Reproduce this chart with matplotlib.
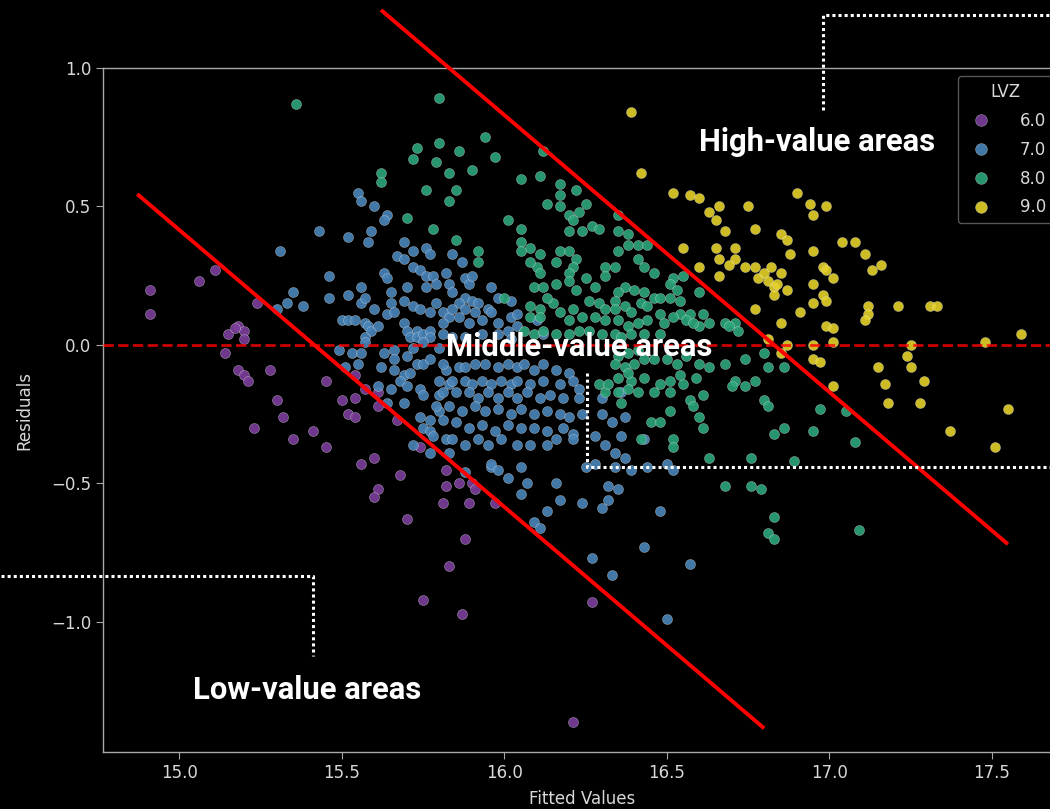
import matplotlib
matplotlib.use('Agg')
import matplotlib.pyplot as plt
from matplotlib.lines import Line2D

# --- data (Fitted Values, Residuals) per LVZ class ---
lvz_levels = ['6.0', '7.0', '8.0', '9.0']
lvz_colors = ['#7d3f9c', '#4a86bb', '#2ca87c', '#e6d22a']

x6 = [14.91, 14.91, 15.06, 15.11, 15.24, 15.18, 15.15, 15.20, 15.20, 15.17, 15.14, 15.18,
      15.20, 15.21, 15.28, 15.45, 15.30, 15.32, 15.23, 15.35, 15.41, 15.45, 15.50, 15.52,
      15.54, 15.54, 15.61, 15.67, 15.74, 15.56, 15.60, 15.54, 15.57, 15.61, 15.82, 15.82,
      15.86, 15.90, 15.91, 15.81, 15.89, 15.97, 15.70, 15.88, 15.83, 15.75, 15.87, 16.27,
      16.21, 15.61, 15.60, 15.68]
y6 = [0.20, 0.11, 0.23, 0.27, 0.15, 0.07, 0.04, 0.05, 0.02, 0.06, -0.03, -0.09,
      -0.11, -0.13, -0.09, -0.13, -0.20, -0.26, -0.30, -0.34, -0.31, -0.37, -0.20, -0.25,
      -0.26, -0.19, -0.22, -0.27, -0.37, -0.43, -0.41, -0.11, -0.16, -0.17, -0.45, -0.51,
      -0.50, -0.50, -0.52, -0.57, -0.57, -0.57, -0.63, -0.70, -0.80, -0.92, -0.97, -0.93,
      -1.36, -0.52, -0.55, -0.47]

x7 = [15.55, 15.56, 15.60, 15.64, 15.63, 15.43, 15.52, 15.59, 15.58, 15.31, 15.69, 15.72,
      15.76, 15.77, 15.67, 15.69, 15.72, 15.74, 15.76, 15.78, 15.82, 15.63, 15.64, 15.46,
      15.46, 15.35, 15.33, 15.38, 15.30, 15.52, 15.56, 15.56, 15.60, 15.57, 15.65, 15.70,
      15.69, 15.72, 15.74, 15.77, 15.79, 15.81, 15.83, 15.76, 15.79, 15.65, 15.64, 15.66,
      15.50, 15.52, 15.54, 15.57, 15.58, 15.59, 15.61, 15.57, 15.57, 15.53, 15.56, 15.63,
      15.66, 15.69, 15.70, 15.71, 15.73, 15.73, 15.75, 15.77, 15.77, 15.81, 15.75, 15.72,
      15.80, 15.66, 15.70, 15.73, 15.75, 15.77, 15.66, 15.69, 15.71, 15.62, 15.55, 15.51,
      15.61, 15.65, 15.68, 15.70, 15.74, 15.75, 15.80, 15.82, 15.83, 15.80, 15.77, 15.75,
      15.77, 15.78, 15.82, 15.83, 15.64, 15.69, 15.74, 15.72, 15.77, 15.88, 15.96, 15.49,
      15.88, 15.89, 15.83, 15.84, 15.88, 15.90, 15.92, 15.95, 15.96, 15.86, 15.84, 15.88,
      15.91, 15.86, 15.89, 15.93, 15.98, 16.02, 16.04, 16.01, 15.81, 15.84, 15.88, 15.93,
      15.98, 16.02, 15.81, 15.86, 15.88, 15.91, 15.94, 15.98, 16.01, 16.04, 16.06, 16.09,
      16.12, 16.16, 16.20, 15.80, 15.84, 15.88, 15.90, 15.93, 15.96, 15.99, 16.02, 16.04,
      16.08, 16.12, 16.17, 16.21, 16.23, 15.81, 15.85, 15.89, 15.92, 15.95, 15.98, 16.01,
      16.04, 16.07, 16.11, 16.14, 16.18, 16.23, 15.79, 15.83, 15.87, 15.91, 15.94, 15.98,
      16.02, 16.05, 16.09, 16.13, 16.17, 16.20, 16.24, 15.81, 15.85, 15.89, 15.93, 15.97,
      16.01, 16.05, 16.09, 16.13, 16.18, 16.21, 15.84, 15.88, 15.92, 15.95, 15.99, 16.04,
      16.08, 16.13, 16.16, 16.21, 15.96, 15.98, 16.01, 16.05, 16.07, 16.05, 16.30, 16.33,
      16.37, 16.28, 16.31, 16.36, 16.34, 16.37, 16.43, 16.28, 16.34, 16.39, 16.44, 16.50,
      16.52, 16.25, 16.30, 16.36, 15.90, 15.96, 15.98, 16.02, 16.04, 16.10, 16.12, 15.84,
      15.87, 16.13, 16.17, 16.09, 16.11, 16.24, 16.30, 16.32, 16.32, 16.35, 16.48, 16.43,
      16.27, 16.33, 16.57, 16.50, 16.16]
y7 = [0.55, 0.52, 0.50, 0.47, 0.45, 0.41, 0.39, 0.41, 0.37, 0.34, 0.37, 0.34,
      0.35, 0.33, 0.32, 0.31, 0.28, 0.27, 0.25, 0.25, 0.26, 0.26, 0.24, 0.25,
      0.17, 0.19, 0.15, 0.14, 0.13, 0.18, 0.21, 0.15, 0.13, 0.17, 0.19, 0.21,
      0.16, 0.14, 0.13, 0.12, 0.15, 0.12, 0.10, 0.21, 0.22, 0.15, 0.11, 0.12,
      0.09, 0.09, 0.09, 0.08, 0.07, 0.05, 0.07, 0.03, 0.01, -0.03, -0.03, -0.03,
      -0.02, 0.08, 0.05, 0.03, 0.05, 0.03, 0.04, 0.05, 0.03, 0.04, 0.01, -0.01,
      -0.01, -0.05, -0.04, -0.07, -0.07, -0.05, -0.09, -0.11, -0.10, -0.08, -0.07, -0.08,
      -0.15, -0.16, -0.13, -0.15, -0.16, -0.18, -0.18, -0.09, -0.14, -0.24, -0.27, -0.30,
      -0.31, -0.33, -0.34, -0.39, -0.21, -0.21, -0.26, -0.36, -0.39, -0.46, -0.44, -0.02,
      0.24, 0.22, 0.22, 0.19, 0.17, 0.16, 0.15, 0.13, 0.12, 0.15, 0.13, 0.13,
      0.12, 0.10, 0.08, 0.09, 0.08, 0.10, 0.07, 0.05, 0.08, 0.03, 0.03, 0.04,
      0.04, 0.02, -0.07, -0.08, -0.08, -0.07, -0.07, -0.08, -0.07, -0.08, -0.07, -0.09,
      -0.07, -0.09, -0.10, -0.13, -0.13, -0.13, -0.14, -0.13, -0.14, -0.13, -0.14, -0.13,
      -0.14, -0.13, -0.14, -0.13, -0.16, -0.17, -0.17, -0.17, -0.19, -0.17, -0.19, -0.17,
      -0.19, -0.17, -0.19, -0.18, -0.19, -0.19, -0.22, -0.22, -0.24, -0.22, -0.24, -0.23,
      -0.25, -0.23, -0.25, -0.24, -0.25, -0.26, -0.25, -0.27, -0.28, -0.30, -0.29, -0.31,
      -0.29, -0.30, -0.30, -0.31, -0.30, -0.32, -0.34, -0.36, -0.34, -0.36, -0.34, -0.36,
      -0.36, -0.36, -0.34, -0.34, -0.43, -0.45, -0.48, -0.44, -0.50, -0.54, -0.25, -0.28,
      -0.26, -0.33, -0.36, -0.33, -0.39, -0.41, -0.34, -0.43, -0.44, -0.45, -0.44, -0.43,
      -0.45, -0.44, -0.19, -0.17, 0.25, 0.21, 0.17, 0.16, 0.11, 0.09, 0.04, 0.33,
      0.30, -0.60, -0.56, -0.64, -0.66, -0.57, -0.59, -0.56, -0.51, -0.52, -0.60, -0.73,
      -0.77, -0.83, -0.79, -0.99, -0.50]

x8 = [15.36, 15.80, 15.94, 15.80, 15.73, 15.86, 15.79, 15.97, 15.90, 15.72, 15.62, 15.62,
      15.76, 15.70, 15.85, 15.85, 16.12, 16.05, 16.11, 16.17, 16.17, 16.22, 15.83, 15.83,
      15.78, 15.92, 15.92, 16.01, 16.05, 16.13, 16.17, 16.25, 16.23, 16.20, 16.21, 16.27,
      16.29, 16.20, 16.24, 16.35, 16.05, 16.08, 16.05, 16.11, 16.17, 16.20, 16.22, 16.16,
      16.10, 16.11, 16.21, 16.20, 16.31, 16.34, 16.31, 16.35, 16.38, 16.41, 16.44, 16.35,
      16.38, 16.41, 16.43, 16.46, 16.52, 16.55, 16.37, 16.40, 16.43, 16.35, 16.34, 16.51,
      16.53, 16.51, 16.54, 16.54, 16.57, 16.60, 16.56, 16.60, 16.63, 16.61, 16.68, 16.71,
      16.72, 16.25, 16.28, 16.20, 16.22, 16.26, 16.29, 16.31, 16.34, 16.37, 16.39, 16.42,
      16.44, 16.46, 16.48, 16.48, 16.52, 16.49, 16.44, 16.41, 16.38, 16.35, 16.31, 16.28,
      16.24, 16.20, 16.21, 16.17, 16.15, 16.13, 16.11, 16.08, 16.08, 16.11, 16.08, 16.09,
      16.12, 16.16, 16.00, 16.06, 16.09, 16.12, 16.16, 16.20, 16.23, 16.26, 16.30, 16.34,
      16.36, 16.39, 16.43, 16.48, 16.41, 16.38, 16.35, 16.34, 16.37, 16.40, 16.43, 16.46,
      16.50, 16.53, 16.56, 16.60, 16.63, 16.68, 16.74, 16.80, 16.35, 16.39, 16.43, 16.48,
      16.51, 16.55, 16.59, 16.71, 16.77, 16.81, 16.29, 16.31, 16.35, 16.38, 16.41, 16.46,
      16.51, 16.61, 16.70, 16.80, 16.81, 16.51, 16.57, 16.58, 16.60, 16.45, 16.48, 16.42,
      16.52, 16.52, 16.61, 16.63, 16.76, 16.68, 16.76, 16.79, 16.83, 16.97, 17.05, 17.08,
      16.95, 16.86, 16.89, 16.32, 16.36, 16.54, 16.38, 16.86, 16.74, 16.83, 16.81, 16.83,
      17.09, 16.58, 16.69]
y8 = [0.87, 0.89, 0.75, 0.73, 0.71, 0.70, 0.66, 0.68, 0.63, 0.67, 0.62, 0.59,
      0.56, 0.46, 0.56, 0.38, 0.70, 0.60, 0.61, 0.58, 0.54, 0.56, 0.62, 0.52,
      0.42, 0.34, 0.30, 0.45, 0.42, 0.51, 0.50, 0.51, 0.48, 0.47, 0.45, 0.43,
      0.42, 0.41, 0.41, 0.47, 0.37, 0.35, 0.34, 0.33, 0.34, 0.34, 0.31, 0.30,
      0.28, 0.26, 0.28, 0.26, 0.28, 0.28, 0.25, 0.34, 0.36, 0.36, 0.36, 0.41,
      0.40, 0.31, 0.28, 0.26, 0.24, 0.25, 0.21, 0.20, 0.19, 0.19, 0.16, 0.22,
      0.20, 0.17, 0.16, 0.11, 0.11, 0.19, 0.09, 0.07, 0.08, 0.11, 0.08, 0.08,
      0.05, 0.24, 0.21, 0.23, 0.20, 0.16, 0.15, 0.13, 0.13, 0.14, 0.12, 0.15,
      0.14, 0.17, 0.17, 0.11, 0.10, 0.08, 0.09, 0.08, 0.07, 0.09, 0.09, 0.10,
      0.10, 0.09, 0.13, 0.12, 0.15, 0.17, 0.13, 0.14, 0.10, 0.10, 0.30, 0.21,
      0.21, 0.22, 0.17, 0.05, 0.04, 0.05, 0.04, 0.04, 0.05, 0.05, 0.04, 0.04,
      0.03, 0.04, 0.04, 0.04, -0.02, -0.03, -0.04, -0.07, -0.08, -0.07, -0.05, -0.05,
      -0.05, -0.07, -0.04, -0.07, -0.08, -0.07, -0.05, -0.03, -0.12, -0.13, -0.12, -0.14,
      -0.13, -0.14, -0.12, -0.13, -0.13, -0.08, -0.14, -0.17, -0.17, -0.16, -0.17, -0.17,
      -0.17, -0.18, -0.15, -0.20, -0.22, -0.24, -0.20, -0.22, -0.26, -0.28, -0.28, -0.34,
      -0.34, -0.37, -0.30, -0.41, -0.41, -0.51, -0.51, -0.52, -0.32, -0.23, -0.24, -0.35,
      -0.31, -0.30, -0.42, -0.14, -0.21, -0.11, -0.10, -0.08, -0.15, -0.62, -0.68, -0.70,
      -0.67, 0.08, 0.07]

x9 = [16.39, 16.42, 16.52, 16.57, 16.60, 16.63, 16.65, 16.66, 16.75, 16.77, 16.68, 16.55,
      16.65, 16.71, 16.66, 16.71, 16.69, 16.60, 16.66, 16.74, 16.77, 16.78, 16.80, 16.82,
      16.83, 16.83, 16.77, 16.90, 16.94, 16.95, 16.99, 16.85, 16.87, 16.85, 16.81, 16.84,
      16.87, 16.88, 16.95, 16.98, 16.99, 17.01, 16.95, 16.98, 16.99, 16.95, 17.04, 17.08,
      17.11, 17.13, 17.16, 16.91, 16.85, 16.99, 17.01, 17.12, 17.12, 17.11, 17.21, 17.31,
      17.33, 16.81, 16.85, 16.87, 16.95, 17.01, 16.95, 16.97, 17.01, 17.15, 17.24, 17.25,
      17.25, 17.29, 17.17, 17.18, 17.28, 17.37, 17.48, 17.59, 17.55, 17.51]
y9 = [0.84, 0.62, 0.55, 0.54, 0.53, 0.48, 0.45, 0.50, 0.50, 0.42, 0.41, 0.35,
      0.35, 0.35, 0.31, 0.31, 0.29, 0.28, 0.25, 0.28, 0.28, 0.24, 0.26, 0.28,
      0.21, 0.18, 0.13, 0.55, 0.51, 0.47, 0.50, 0.40, 0.38, 0.26, 0.23, 0.22,
      0.20, 0.33, 0.34, 0.28, 0.27, 0.24, 0.22, 0.18, 0.16, 0.15, 0.37, 0.37,
      0.33, 0.27, 0.29, 0.12, 0.08, 0.07, 0.06, 0.14, 0.11, 0.09, 0.14, 0.14,
      0.14, 0.02, -0.03, 0.00, 0.00, 0.01, -0.05, -0.06, -0.15, -0.08, -0.04, 0.00,
      -0.08, -0.13, -0.14, -0.21, -0.21, -0.31, 0.01, 0.04, -0.23, -0.37]

# boundary lines (slope -1) and dotted label leaders, data coordinates
low_line_x = [14.875, 16.795]
low_line_y = [0.54, -1.38]
high_line_x = [15.625, 17.545]
high_line_y = [1.205, -0.715]

high_lead_x = [16.98, 16.98, 17.80]
high_lead_y = [0.85, 1.19, 1.19]
mid_lead_x = [16.255, 16.255, 17.80]
mid_lead_y = [-0.10, -0.44, -0.44]
low_lead_x = [14.45, 15.41, 15.41]
low_lead_y = [-0.836, -0.836, -1.125]

labels = ['High-value areas', 'Middle-value areas', 'Low-value areas']
label_x = [16.60, 15.822, 15.041]
label_y = [0.70, -0.04, -1.279]

series = [(x6, y6), (x7, y7), (x8, y8), (x9, y9)]

fig = plt.figure(figsize=(10.5, 8.09), dpi=100, facecolor='black')
# axes run a little past the right edge of the canvas, as in the cropped original
ax = fig.add_axes([103 / 1050, 57 / 809, 958 / 1050, 684 / 809], facecolor='black')

for (xs, ys), lvl, col in zip(series, lvz_levels, lvz_colors):
    ax.scatter(xs, ys, s=52, color=col, alpha=0.9, edgecolors='#dddddd',
               linewidths=0.25, zorder=3)

ax.axhline(0, color='red', alpha=0.8, linestyle='--', linewidth=2, zorder=4)

ax.plot(low_line_x, low_line_y, color='red', linewidth=2.8, zorder=5, clip_on=False)
ax.plot(high_line_x, high_line_y, color='red', linewidth=2.8, zorder=5, clip_on=False)

for lx, ly in [(high_lead_x, high_lead_y), (mid_lead_x, mid_lead_y), (low_lead_x, low_lead_y)]:
    ax.plot(lx, ly, color='white', linewidth=2.2, linestyle=(0, (1, 1)),
            zorder=6, clip_on=False)

for txt, tx, ty in zip(labels, label_x, label_y):
    ax.text(tx, ty, txt, color='white', fontsize=22.3, fontweight='bold',
            family='Roboto', ha='left', va='baseline', zorder=7)

ax.set_xlim(14.765, 17.713)
ax.set_ylim(-1.47, 1.0)
ax.set_xticks([15.0, 15.5, 16.0, 16.5, 17.0, 17.5])
ax.set_yticks([-1.0, -0.5, 0.0, 0.5, 1.0])

for side in ['left', 'bottom', 'top']:
    ax.spines[side].set_color('#a8a8a8')
    ax.spines[side].set_linewidth(1.0)
ax.spines['right'].set_visible(False)
ax.tick_params(colors='#a8a8a8', labelcolor='#d8d8d8', labelsize=12, length=5)
ax.set_xlabel('Fitted Values', color='#d8d8d8', fontsize=12, labelpad=6)
ax.set_ylabel('Residuals', color='#d8d8d8', fontsize=12, labelpad=13)

handles = [Line2D([], [], marker='o', linestyle='', markersize=8.5, color=c,
                  markeredgecolor='#dddddd', markeredgewidth=0.25, alpha=0.9)
           for c in lvz_colors]
leg = ax.legend(handles, lvz_levels, title='LVZ', loc='upper right', fontsize=12,
                title_fontsize=12, labelspacing=0.65, handletextpad=1.3,
                frameon=True, facecolor='black', edgecolor='#555555',
                framealpha=1.0, borderaxespad=0.5)
for t in leg.get_texts():
    t.set_color('#d8d8d8')
leg.get_title().set_color('#d8d8d8')
leg.set_zorder(8)

fig.savefig('out.png', dpi=100, facecolor='black')
